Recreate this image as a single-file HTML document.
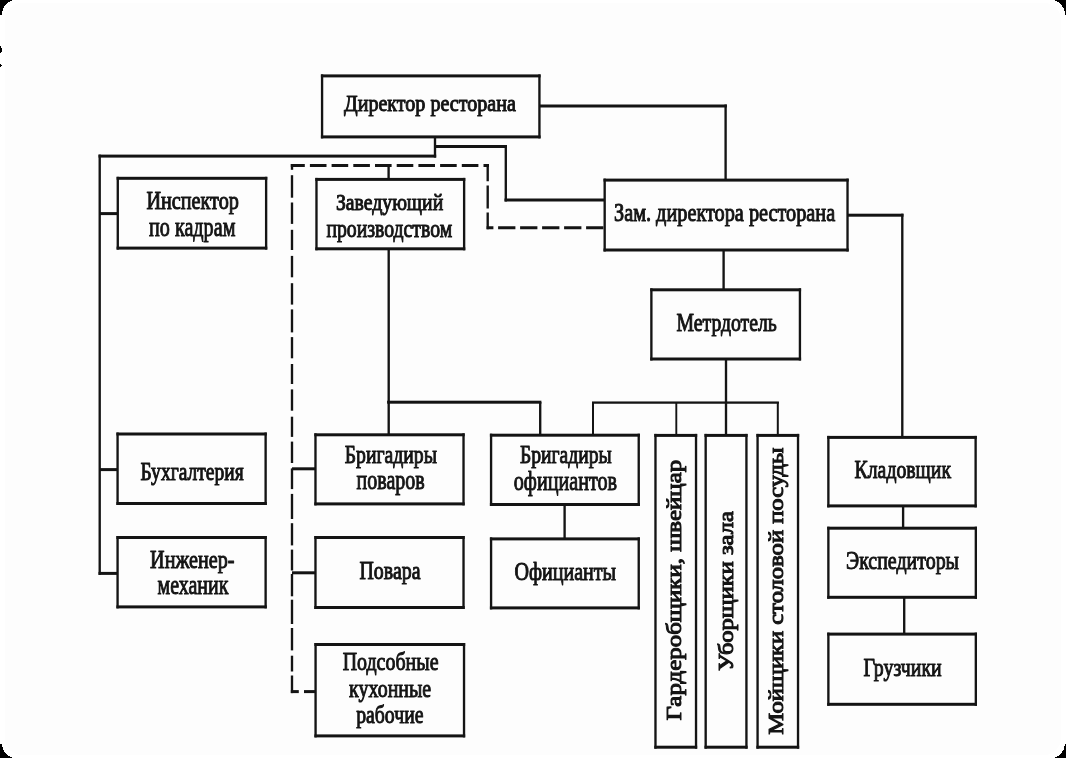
<!DOCTYPE html>
<html><head><meta charset="utf-8"><title>Структура ресторана</title>
<style>
html,body{margin:0;padding:0;background:#fff;}
body{width:1066px;height:758px;overflow:hidden;position:relative;font-family:"Liberation Serif",serif;}
#sheet{position:absolute;left:5px;top:3px;width:1056px;height:752px;background:#fdfdfd;border-radius:17px;}
svg{position:absolute;left:0;top:0;}
text{font-family:"Liberation Serif",serif;fill:#141414;stroke:#141414;stroke-width:1.0px;stroke-linejoin:round;}
#art{filter:blur(0.6px);}
</style></head><body>
<div id="sheet"></div>
<svg id="art" width="1066" height="758" viewBox="0 0 1066 758">

<g fill="#141414">
<rect x="320.90" y="74.40" width="219.70" height="3.00"/>
<rect x="320.90" y="135.40" width="219.70" height="3.00"/>
<rect x="320.90" y="74.40" width="2.35" height="64.00"/>
<rect x="538.25" y="74.40" width="2.35" height="64.00"/>
<rect x="116.60" y="176.80" width="150.70" height="3.00"/>
<rect x="116.60" y="246.60" width="150.70" height="3.00"/>
<rect x="116.60" y="176.80" width="2.35" height="72.80"/>
<rect x="264.95" y="176.80" width="2.35" height="72.80"/>
<rect x="315.30" y="177.90" width="150.00" height="3.00"/>
<rect x="315.30" y="247.30" width="150.00" height="3.00"/>
<rect x="315.30" y="177.90" width="2.35" height="72.40"/>
<rect x="462.95" y="177.90" width="2.35" height="72.40"/>
<rect x="603.50" y="178.60" width="245.20" height="3.00"/>
<rect x="603.50" y="248.50" width="245.20" height="3.00"/>
<rect x="603.50" y="178.60" width="2.35" height="72.90"/>
<rect x="846.35" y="178.60" width="2.35" height="72.90"/>
<rect x="650.20" y="288.30" width="150.90" height="3.00"/>
<rect x="650.20" y="357.50" width="150.90" height="3.00"/>
<rect x="650.20" y="288.30" width="2.35" height="72.20"/>
<rect x="798.75" y="288.30" width="2.35" height="72.20"/>
<rect x="116.40" y="432.50" width="150.40" height="3.00"/>
<rect x="116.40" y="502.00" width="150.40" height="3.00"/>
<rect x="116.40" y="432.50" width="2.35" height="72.50"/>
<rect x="264.45" y="432.50" width="2.35" height="72.50"/>
<rect x="116.40" y="536.00" width="150.40" height="3.00"/>
<rect x="116.40" y="605.40" width="150.40" height="3.00"/>
<rect x="116.40" y="536.00" width="2.35" height="72.40"/>
<rect x="264.45" y="536.00" width="2.35" height="72.40"/>
<rect x="314.30" y="433.30" width="150.40" height="3.00"/>
<rect x="314.30" y="502.40" width="150.40" height="3.00"/>
<rect x="314.30" y="433.30" width="2.35" height="72.10"/>
<rect x="462.35" y="433.30" width="2.35" height="72.10"/>
<rect x="314.30" y="536.00" width="150.40" height="3.00"/>
<rect x="314.30" y="606.00" width="150.40" height="3.00"/>
<rect x="314.30" y="536.00" width="2.35" height="73.00"/>
<rect x="462.35" y="536.00" width="2.35" height="73.00"/>
<rect x="314.40" y="643.00" width="150.80" height="3.00"/>
<rect x="314.40" y="734.40" width="150.80" height="3.00"/>
<rect x="314.40" y="643.00" width="2.35" height="94.40"/>
<rect x="462.85" y="643.00" width="2.35" height="94.40"/>
<rect x="489.90" y="433.70" width="150.00" height="3.00"/>
<rect x="489.90" y="503.00" width="150.00" height="3.00"/>
<rect x="489.90" y="433.70" width="2.35" height="72.30"/>
<rect x="637.55" y="433.70" width="2.35" height="72.30"/>
<rect x="489.90" y="537.40" width="150.00" height="3.00"/>
<rect x="489.90" y="606.40" width="150.00" height="3.00"/>
<rect x="489.90" y="537.40" width="2.35" height="72.00"/>
<rect x="637.55" y="537.40" width="2.35" height="72.00"/>
<rect x="654.30" y="433.90" width="42.90" height="3.00"/>
<rect x="654.30" y="745.70" width="42.90" height="3.00"/>
<rect x="654.30" y="433.90" width="2.35" height="314.80"/>
<rect x="694.85" y="433.90" width="2.35" height="314.80"/>
<rect x="704.50" y="433.90" width="43.10" height="3.00"/>
<rect x="704.50" y="745.70" width="43.10" height="3.00"/>
<rect x="704.50" y="433.90" width="2.35" height="314.80"/>
<rect x="745.25" y="433.90" width="2.35" height="314.80"/>
<rect x="756.40" y="433.90" width="42.80" height="3.00"/>
<rect x="756.40" y="745.70" width="42.80" height="3.00"/>
<rect x="756.40" y="433.90" width="2.35" height="314.80"/>
<rect x="796.85" y="433.90" width="2.35" height="314.80"/>
<rect x="827.20" y="435.90" width="149.60" height="3.00"/>
<rect x="827.20" y="504.40" width="149.60" height="3.00"/>
<rect x="827.20" y="435.90" width="2.35" height="71.50"/>
<rect x="974.45" y="435.90" width="2.35" height="71.50"/>
<rect x="827.20" y="526.70" width="149.80" height="3.00"/>
<rect x="827.20" y="595.80" width="149.80" height="3.00"/>
<rect x="827.20" y="526.70" width="2.35" height="72.10"/>
<rect x="974.65" y="526.70" width="2.35" height="72.10"/>
<rect x="827.20" y="632.60" width="149.80" height="3.00"/>
<rect x="827.20" y="702.80" width="149.80" height="3.00"/>
<rect x="827.20" y="632.60" width="2.35" height="73.20"/>
<rect x="974.65" y="632.60" width="2.35" height="73.20"/>
<rect x="98.50" y="154.60" width="337.70" height="3.00"/>
<rect x="99.70" y="212.10" width="17.80" height="3.00"/>
<rect x="99.70" y="468.10" width="17.80" height="3.00"/>
<rect x="98.50" y="571.90" width="19.00" height="3.00"/>
<rect x="435.00" y="145.00" width="72.00" height="3.00"/>
<rect x="504.50" y="198.50" width="100.00" height="3.00"/>
<rect x="292.00" y="467.30" width="23.50" height="3.00"/>
<rect x="292.00" y="571.30" width="23.50" height="3.00"/>
<rect x="387.10" y="400.70" width="154.30" height="3.00"/>
<rect x="540.00" y="104.50" width="186.90" height="3.00"/>
<rect x="592.00" y="401.45" width="186.90" height="2.30"/>
<rect x="848.00" y="213.70" width="55.50" height="3.00"/>
<rect x="433.82" y="138.00" width="2.35" height="19.60"/>
<rect x="98.53" y="154.60" width="2.35" height="420.30"/>
<rect x="504.62" y="145.00" width="2.35" height="56.50"/>
<rect x="387.43" y="166.00" width="2.35" height="13.50"/>
<rect x="387.52" y="249.00" width="2.35" height="185.50"/>
<rect x="539.03" y="402.00" width="2.35" height="33.00"/>
<rect x="724.43" y="104.50" width="2.35" height="75.00"/>
<rect x="722.43" y="250.50" width="2.35" height="39.00"/>
<rect x="724.83" y="360.00" width="2.35" height="74.50"/>
<rect x="592.00" y="402.00" width="2.00" height="33.00"/>
<rect x="675.35" y="402.00" width="1.90" height="32.50"/>
<rect x="776.80" y="402.00" width="2.00" height="32.50"/>
<rect x="901.12" y="213.70" width="2.35" height="222.80"/>
<rect x="901.93" y="506.50" width="2.35" height="21.00"/>
<rect x="903.03" y="597.50" width="2.35" height="36.50"/>
<rect x="563.43" y="505.00" width="2.35" height="34.00"/>
<rect x="290.82" y="164.00" width="2.35" height="5.80"/>
<rect x="290.82" y="175.20" width="2.35" height="22.50"/>
<rect x="290.82" y="202.50" width="2.35" height="21.40"/>
<rect x="290.82" y="229.80" width="2.35" height="20.20"/>
<rect x="290.82" y="255.90" width="2.35" height="21.40"/>
<rect x="290.82" y="283.20" width="2.35" height="21.40"/>
<rect x="290.82" y="309.40" width="2.35" height="23.00"/>
<rect x="290.82" y="337.10" width="2.35" height="21.20"/>
<rect x="290.82" y="364.00" width="2.35" height="20.00"/>
<rect x="290.82" y="389.40" width="2.35" height="21.30"/>
<rect x="290.82" y="416.70" width="2.35" height="20.20"/>
<rect x="290.82" y="441.60" width="2.35" height="21.40"/>
<rect x="290.82" y="468.40" width="2.35" height="20.70"/>
<rect x="290.82" y="493.90" width="2.35" height="25.10"/>
<rect x="290.82" y="523.20" width="2.35" height="22.20"/>
<rect x="290.82" y="549.60" width="2.35" height="20.90"/>
<rect x="290.82" y="574.00" width="2.35" height="22.30"/>
<rect x="290.82" y="599.70" width="2.35" height="24.30"/>
<rect x="290.82" y="628.00" width="2.35" height="22.40"/>
<rect x="290.82" y="655.70" width="2.35" height="15.80"/>
<rect x="290.82" y="675.50" width="2.35" height="17.60"/>
<rect x="290.80" y="690.10" width="8.00" height="3.00"/>
<rect x="304.00" y="690.10" width="11.50" height="3.00"/>
</g>
<g stroke="#141414" fill="none">
<line x1="290.80" y1="165.40" x2="489.00" y2="165.40" stroke-width="3.00" stroke-dasharray="16.60 5.10" stroke-dashoffset="2.60"/>
<line x1="486.60" y1="227.70" x2="604.50" y2="227.70" stroke-width="3.00" stroke-dasharray="17.30 4.70" stroke-dashoffset="10.50"/>
<line x1="487.70" y1="163.90" x2="487.70" y2="229.20" stroke-width="2.35" stroke-dasharray="23.00 4.20" stroke-dashoffset="5.70"/>
</g>
<text x="344.00" y="111.00" font-size="22.80" textLength="171.80" lengthAdjust="spacingAndGlyphs">Директор ресторана</text>
<text x="146.40" y="208.90" font-size="24.50" textLength="92.50" lengthAdjust="spacingAndGlyphs">Инспектор</text>
<text x="149.00" y="235.60" font-size="28.20" textLength="86.40" lengthAdjust="spacingAndGlyphs">по кадрам</text>
<text x="335.90" y="209.60" font-size="23.60" textLength="107.30" lengthAdjust="spacingAndGlyphs">Заведующий</text>
<text x="326.40" y="236.90" font-size="25.60" textLength="125.80" lengthAdjust="spacingAndGlyphs">производством</text>
<text x="614.00" y="221.40" font-size="24.80" textLength="221.20" lengthAdjust="spacingAndGlyphs">Зам. директора ресторана</text>
<text x="676.50" y="330.50" font-size="25.20" textLength="100.30" lengthAdjust="spacingAndGlyphs">Метрдотель</text>
<text x="140.40" y="479.50" font-size="25.20" textLength="103.30" lengthAdjust="spacingAndGlyphs">Бухгалтерия</text>
<text x="150.10" y="567.60" font-size="24.90" textLength="84.40" lengthAdjust="spacingAndGlyphs">Инженер-</text>
<text x="157.50" y="593.80" font-size="27.30" textLength="70.90" lengthAdjust="spacingAndGlyphs">механик</text>
<text x="344.70" y="462.90" font-size="24.90" textLength="92.30" lengthAdjust="spacingAndGlyphs">Бригадиры</text>
<text x="356.60" y="488.60" font-size="27.00" textLength="68.20" lengthAdjust="spacingAndGlyphs">поваров</text>
<text x="359.50" y="579.10" font-size="25.20" textLength="61.00" lengthAdjust="spacingAndGlyphs">Повара</text>
<text x="342.70" y="670.20" font-size="25.20" textLength="95.80" lengthAdjust="spacingAndGlyphs">Подсобные</text>
<text x="349.10" y="697.00" font-size="25.60" textLength="82.10" lengthAdjust="spacingAndGlyphs">кухонные</text>
<text x="356.20" y="723.40" font-size="25.60" textLength="67.30" lengthAdjust="spacingAndGlyphs">рабочие</text>
<text x="520.00" y="463.10" font-size="24.80" textLength="91.80" lengthAdjust="spacingAndGlyphs">Бригадиры</text>
<text x="513.80" y="489.50" font-size="26.90" textLength="103.30" lengthAdjust="spacingAndGlyphs">официантов</text>
<text x="514.40" y="579.50" font-size="25.10" textLength="101.70" lengthAdjust="spacingAndGlyphs">Официанты</text>
<text x="854.60" y="478.40" font-size="24.80" textLength="96.40" lengthAdjust="spacingAndGlyphs">Кладовщик</text>
<text x="846.00" y="568.80" font-size="25.20" textLength="113.00" lengthAdjust="spacingAndGlyphs">Экспедиторы</text>
<text x="863.60" y="675.70" font-size="24.90" textLength="78.10" lengthAdjust="spacingAndGlyphs">Грузчики</text>
<text transform="translate(680.90 720.40) rotate(-90)" x="0" y="0" font-size="21.00" textLength="260.60" lengthAdjust="spacingAndGlyphs">Гардеробщики, швейцар</text>
<text transform="translate(732.50 670.90) rotate(-90)" x="0" y="0" font-size="21.00" textLength="159.70" lengthAdjust="spacingAndGlyphs">Уборщики зала</text>
<text transform="translate(782.90 734.70) rotate(-90)" x="0" y="0" font-size="21.00" textLength="287.30" lengthAdjust="spacingAndGlyphs">Мойщики столовой посуды</text>
</svg>
<svg id="corners" width="1066" height="758" viewBox="0 0 1066 758" shape-rendering="crispEdges">
<g fill="#000">
<path d="M0 0H13.2A15 15 0 0 0 2 14.5V15H0Z"/>
<path d="M1066 0H1053.8A15 15 0 0 1 1065 14.5V15H1066Z"/>
<path d="M1066 758H1053.8A15 15 0 0 0 1065 743.5V743.8H1066Z"/>
<path d="M0 758H13.2A15 15 0 0 1 2 743.5V743.8H0Z"/>
<rect x="0" y="46" width="1" height="7"/><rect x="1" y="48" width="1" height="4"/>
<rect x="0" y="64" width="1" height="3"/><rect x="1" y="65" width="1" height="1"/>
</g></svg>
</body></html>
